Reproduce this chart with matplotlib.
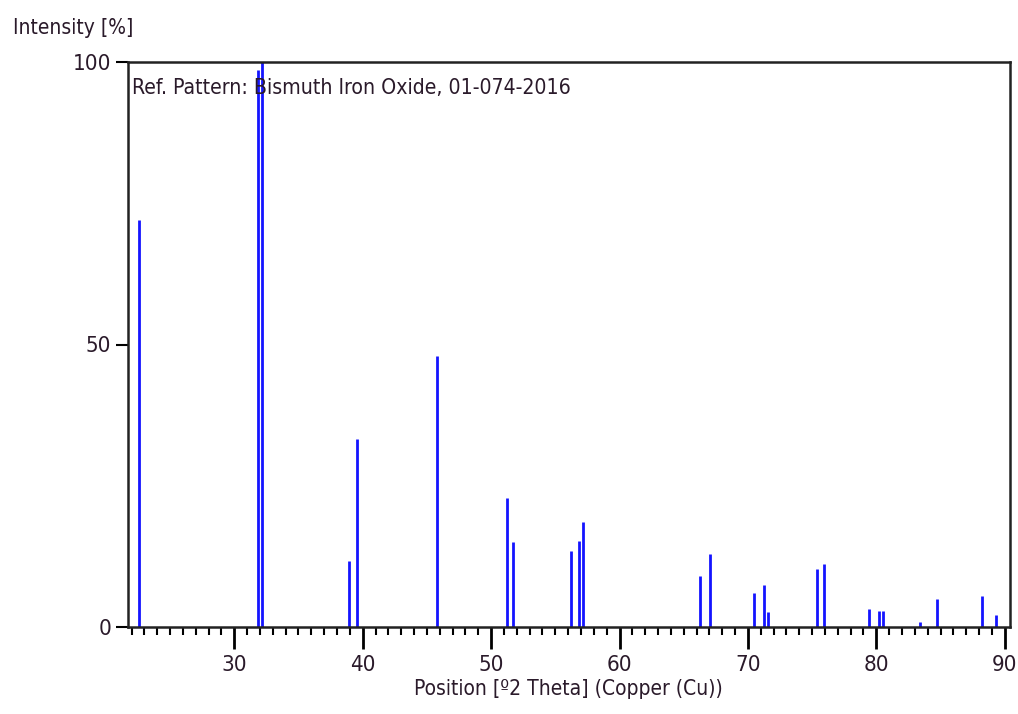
import matplotlib.pyplot as plt
from matplotlib.ticker import MultipleLocator
from matplotlib import font_manager

# reference pattern peaks: position [deg 2theta] and relative intensity [%]
positions = [22.6, 31.82, 32.18, 38.96, 39.58, 45.81, 51.26, 51.73,
             56.25, 56.87, 57.18, 66.27, 67.02, 70.5, 71.25, 71.59,
             75.36, 75.95, 79.46, 80.21, 80.52, 83.4, 84.75, 88.26, 89.3]
intensities = [72.0, 98.5, 100.0, 11.6, 33.3, 48.0, 22.9, 15.0,
               13.5, 15.2, 18.5, 9.1, 12.9, 6.1, 7.4, 2.6,
               10.2, 11.2, 3.2, 2.9, 2.9, 0.9, 5.0, 5.4, 2.2]
y_ticks = [0, 50, 100]
x_ticks = [30, 40, 50, 60, 70, 80, 90]

# look for a narrow font, the original uses a condensed face
narrow = None
for f in font_manager.fontManager.ttflist:
    fn = f.fname.lower()
    if ("condensed" in fn or "narrow" in fn) and "bold" not in fn and "oblique" not in fn and "italic" not in fn:
        narrow = f
        break
if narrow is not None:
    fp = font_manager.FontProperties(fname=narrow.fname)
    scale = 1.0
else:
    fp = font_manager.FontProperties(family="DejaVu Sans")
    scale = 0.82
txt_color = "#2a1a2a"

fig = plt.figure(figsize=(10.18, 7.14), dpi=100)
ax = fig.add_axes([127.7 / 1018, 1 - 627 / 714, (1010 - 127.7) / 1018, (627 - 62) / 714])

ax.vlines(positions, 0, intensities, color="#1414ff", linewidth=2)

ax.set_xlim(21.7, 90.41)
ax.set_ylim(0, 100)
ax.set_xticks(x_ticks)
ax.set_yticks(y_ticks)
ax.xaxis.set_minor_locator(MultipleLocator(1))
ax.tick_params(axis="x", which="major", length=16, width=2, direction="out",
               labelcolor=txt_color, pad=4)
ax.tick_params(axis="x", which="minor", length=6, width=1.5, direction="out")
ax.tick_params(axis="y", which="major", length=9, width=1.5, direction="out",
               labelcolor=txt_color, pad=3)
for lab in ax.get_xticklabels() + ax.get_yticklabels():
    lab.set_fontproperties(fp)
    lab.set_fontsize(16 * scale)
for s in ax.spines.values():
    s.set_linewidth(1.8)
    s.set_color("#222222")

ax.set_xlabel("Position [º2 Theta] (Copper (Cu))", fontproperties=fp,
              fontsize=15 * scale, color=txt_color, labelpad=3)
fig.text(13 / 1018, 1 - 28 / 714, "Intensity [%]", fontproperties=fp,
         fontsize=15 * scale, color=txt_color, ha="left", va="center")
ax.text(0.005, 0.972, "Ref. Pattern: Bismuth Iron Oxide, 01-074-2016",
        transform=ax.transAxes, fontproperties=fp, fontsize=15.2 * scale,
        color=txt_color, ha="left", va="top")

fig.savefig("out.png", dpi=100)
